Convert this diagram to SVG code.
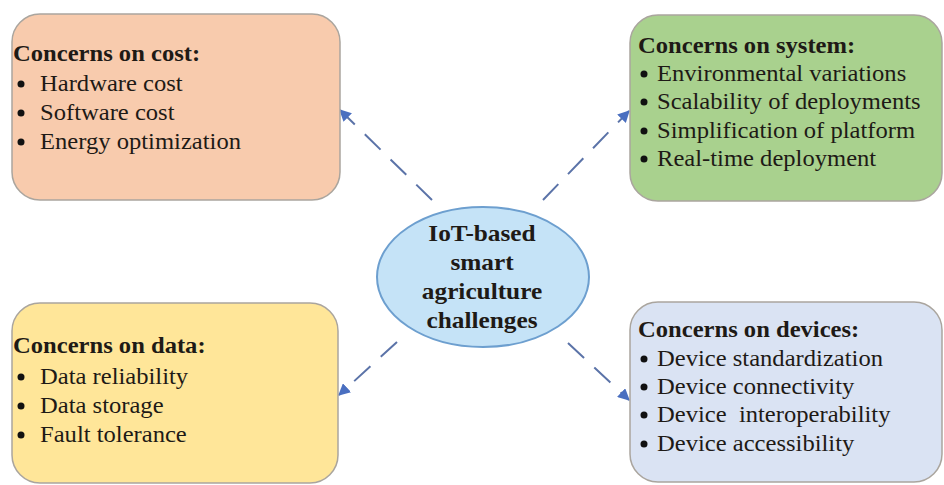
<svg xmlns="http://www.w3.org/2000/svg" width="944" height="485" viewBox="0 0 944 485">
<style>
.box{stroke:#aaa59e;stroke-width:1.5}
.t{font-family:"Liberation Serif","Times New Roman",serif;font-size:23px;fill:#1e1a16}
.b{font-weight:bold}
.conn{stroke:#5b73a8;stroke-width:2;stroke-dasharray:22 14;fill:none}
.dot{fill:#111}
</style>
<defs>
<marker id="ah" viewBox="0 0 10 10" refX="9" refY="5" markerWidth="6" markerHeight="6" orient="auto">
<path d="M0,0 L10,5 L0,10 z" fill="#4a6fc0"/>
</marker>
</defs>
<rect width="944" height="485" fill="#fff"/>
<g id="connectors">
<line class="conn" x1="432" y1="200" x2="340" y2="110" marker-end="url(#ah)"/>
<line class="conn" x1="543" y1="200" x2="629" y2="111" marker-end="url(#ah)"/>
<line class="conn" x1="397" y1="342" x2="339" y2="395" marker-end="url(#ah)"/>
<line class="conn" x1="568" y1="343" x2="629" y2="400" marker-end="url(#ah)"/>
</g>
<g id="cost">
<rect class="box" x="12" y="14" width="328" height="186" rx="28" fill="#f8cbad"/>
<text class="t b" transform="translate(13,0) scale(1.07,1)" x="0" y="61" fill="#24160e">Concerns on cost:</text>
<circle class="dot" cx="21" cy="84" r="3.5"/><circle class="dot" cx="21" cy="113" r="3.5"/><circle class="dot" cx="21" cy="142" r="3.5"/>
<g class="t" transform="translate(40,0) scale(1.07,1)" fill="#2a1c14">
<text x="0" y="91">Hardware cost</text>
<text x="0" y="120">Software cost</text>
<text x="0" y="149">Energy optimization</text>
</g>
</g>
<g id="system">
<rect class="box" x="630" y="15" width="312" height="186" rx="28" fill="#a9d18e"/>
<text class="t b" transform="translate(638,0) scale(1.07,1)" x="0" y="53" fill="#0f1a0c">Concerns on system:</text>
<circle class="dot" cx="644" cy="74" r="3.5"/><circle class="dot" cx="644" cy="102" r="3.5"/><circle class="dot" cx="644" cy="131" r="3.5"/><circle class="dot" cx="644" cy="159" r="3.5"/>
<g class="t" transform="translate(657,0) scale(1.07,1)" fill="#14220f">
<text x="0" y="81">Environmental variations</text>
<text x="0" y="109">Scalability of deployments</text>
<text x="0" y="138">Simplification of platform</text>
<text x="0" y="166">Real-time deployment</text>
</g>
</g>
<g id="data">
<rect class="box" x="12" y="303" width="326" height="180" rx="28" fill="#ffe699"/>
<text class="t b" transform="translate(13,0) scale(1.07,1)" x="0" y="353" fill="#1c160a">Concerns on data:</text>
<circle class="dot" cx="21" cy="377" r="3.5"/><circle class="dot" cx="21" cy="406" r="3.5"/><circle class="dot" cx="21" cy="435" r="3.5"/>
<g class="t" transform="translate(40,0) scale(1.07,1)" fill="#241c0c">
<text x="0" y="384">Data reliability</text>
<text x="0" y="413">Data storage</text>
<text x="0" y="442">Fault tolerance</text>
</g>
</g>
<g id="devices">
<rect class="box" x="630" y="302" width="312" height="180" rx="28" fill="#dae3f3"/>
<text class="t b" transform="translate(638,0) scale(1.07,1)" x="0" y="337" fill="#111">Concerns on devices:</text>
<circle class="dot" cx="644" cy="359" r="3.5"/><circle class="dot" cx="644" cy="387" r="3.5"/><circle class="dot" cx="644" cy="415" r="3.5"/><circle class="dot" cx="644" cy="444" r="3.5"/>
<g class="t" transform="translate(657,0) scale(1.07,1)" fill="#1a1a1a">
<text x="0" y="366">Device standardization</text>
<text x="0" y="394">Device connectivity</text>
<text x="0" y="422" xml:space="preserve">Device  interoperability</text>
<text x="0" y="451">Device accessibility</text>
</g>
</g>
<g id="center">
<ellipse cx="483" cy="277" rx="106" ry="70" fill="#c5e3f7" stroke="#6d9fcf" stroke-width="2"/>
<g class="t b" text-anchor="middle" transform="translate(482,0) scale(1.1,1)" fill="#141414">
<text x="0" y="241">IoT-based</text>
<text x="0" y="270">smart</text>
<text x="0" y="299">agriculture</text>
<text x="0" y="328">challenges</text>
</g>
</g>
</svg>
